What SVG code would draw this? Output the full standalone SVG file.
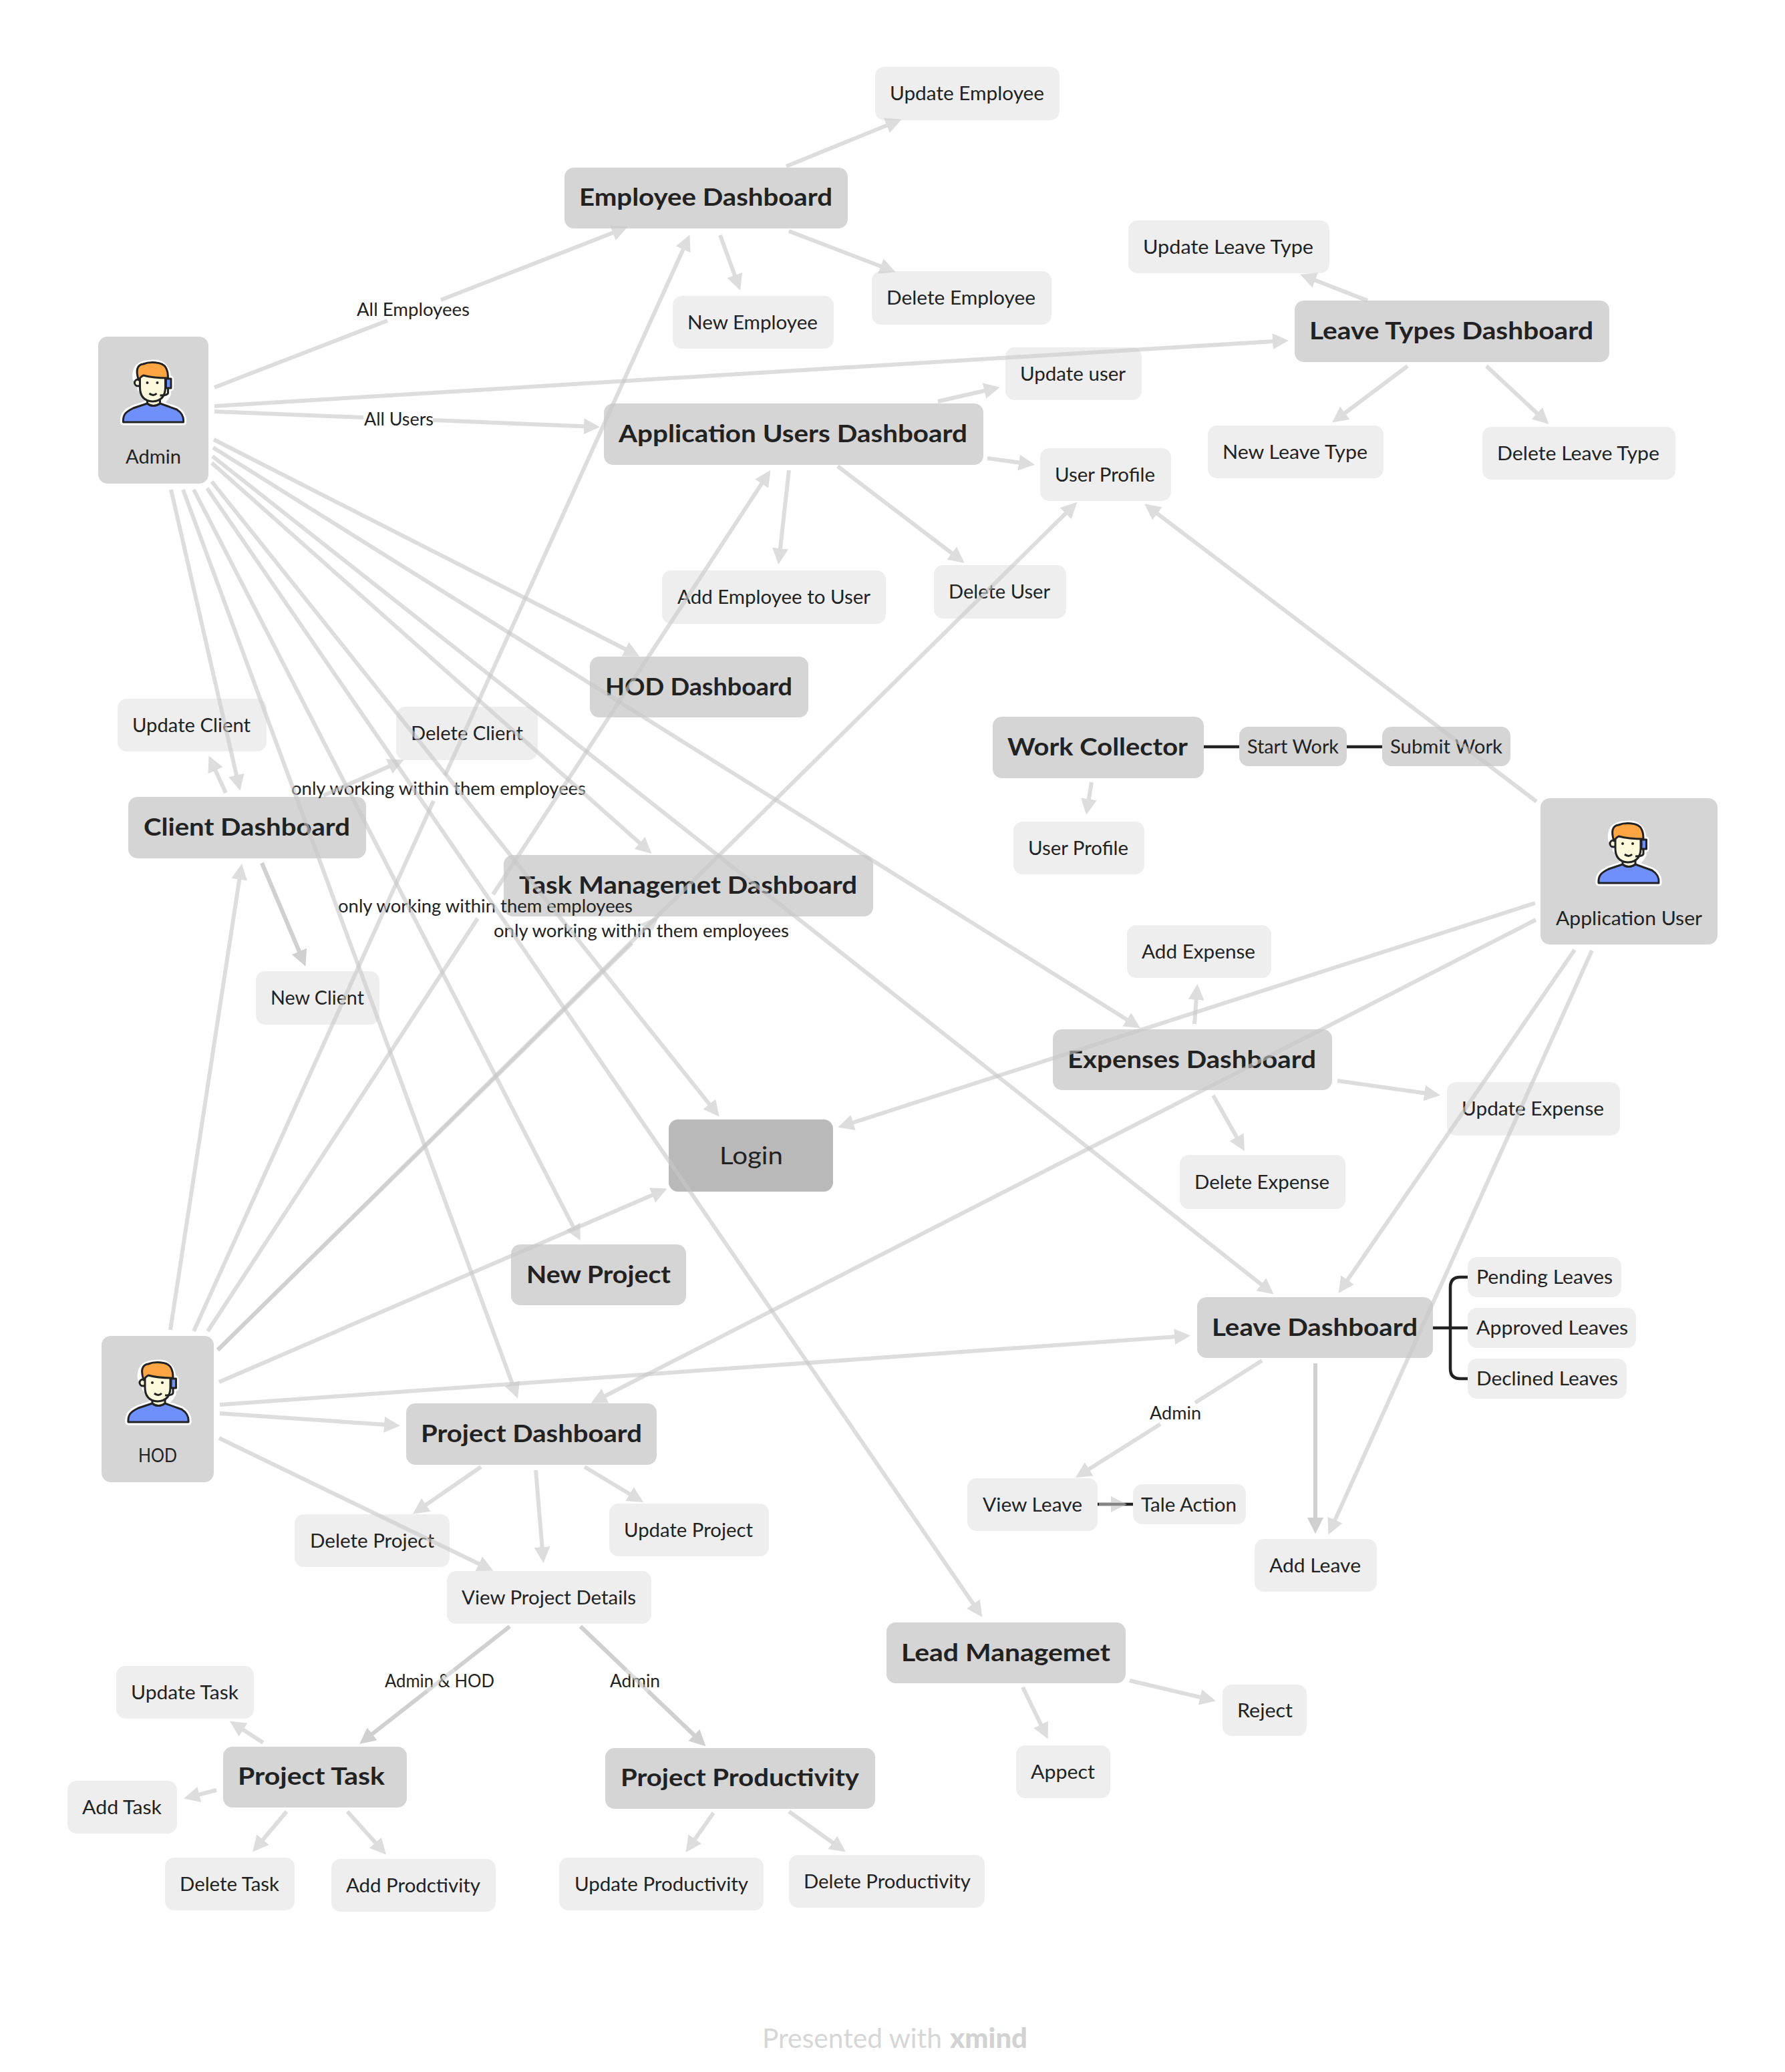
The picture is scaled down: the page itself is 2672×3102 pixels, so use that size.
<svg xmlns="http://www.w3.org/2000/svg" width="2672" height="3102" viewBox="0 0 2672 3102">
<style>
text{font-family:"Lato","Noto Sans",sans-serif;fill:#222}
.s{fill:#eee}.m{fill:#d5d5d5}.l{fill:#b9b9b9}
.r{font-size:29px}.b{font-size:37px;font-weight:700}.n{font-size:37px}.e{font-size:26px}
.c{fill:none;stroke:#c8c8c8;stroke-width:6;opacity:.6;marker-end:url(#a)}
.h{fill:#c8c8c8;opacity:.6}
.d{fill:none;stroke:#222;stroke-width:4.5}
.o{stroke:#222;stroke-width:3;stroke-linejoin:round}
.w{stroke:#fff;stroke-width:9;stroke-linejoin:round;fill:#fff}
</style>
<defs>
<marker id="a" markerUnits="userSpaceOnUse" markerWidth="26" markerHeight="26" refX="18" refY="12" orient="auto"><path d="M0 0L24 12L0 24Z" fill="#c8c8c8"/></marker>
<g id="p">
<path class="w" d="M-45 92C-46 80-40 76-30 71L-9 64V48L-20 42V33C-28 30-28 22-25 13C-22 6-12 3 2 3C14 3 22 12 22 27H26V41H22V50L18 56L10 64L35 73C41 77 46 82 45 92Z"/>
<path class="o" fill="#6f8ffb" d="M-45 92C-46 80-40 76-30 71L-9 64Q0 71 10 64L35 73C41 77 46 82 45 92Z"/>
<path class="o" fill="#fdf9dc" d="M-9 54V64Q0 71 10 64V54Z"/>
<circle class="o" cx="-23" cy="33" r="5" fill="#fdf9dc"/>
<path class="o" fill="#fdf9dc" d="M-20 20V40Q-20 60 -1 61Q18 60 18 40V20Z"/>
<path class="o" fill="#ffa544" d="M-22 29C-27 14-24 6-15 5C-8 2 14 0 19 11C22 16 22 20 22 26Q0 26-15 22Q-19 24-22 29Z"/>
<rect class="o" x="19" y="27" width="7.5" height="14" fill="#6f8ffb"/>
<path class="o" fill="none" d="M22 41V48Q22 52 10 52M-6 49Q0 54 5 49"/>
<circle cx="-9" cy="33" r="2" fill="#222"/><circle cx="6" cy="33" r="2" fill="#222"/>
</g>
</defs>
<rect width="2672" height="3102" fill="#fff"/>
<g id="nodes">
<g id="n1"><rect class="s" x="1310" y="100" width="276" height="80" rx="14"/><text class="r" x="1332" y="150" textLength="231" lengthAdjust="spacingAndGlyphs">Update Employee</text></g>
<g id="n2"><rect class="m" x="845" y="251" width="424" height="91" rx="14"/><text class="b" x="867" y="308" textLength="379" lengthAdjust="spacingAndGlyphs">Employee Dashboard</text></g>
<g id="n3"><rect class="s" x="1689" y="330" width="301" height="79" rx="14"/><text class="r" x="1711" y="380" textLength="255" lengthAdjust="spacingAndGlyphs">Update Leave Type</text></g>
<g id="n4"><rect class="s" x="1305" y="406" width="269" height="80" rx="14"/><text class="r" x="1327" y="456" textLength="223" lengthAdjust="spacingAndGlyphs">Delete Employee</text></g>
<g id="n5"><rect class="s" x="1007" y="443" width="241" height="79" rx="14"/><text class="r" x="1029" y="493" textLength="195" lengthAdjust="spacingAndGlyphs">New Employee</text></g>
<g id="n6"><rect class="m" x="1938" y="450" width="471" height="92" rx="14"/><text class="b" x="1960" y="508" textLength="425" lengthAdjust="spacingAndGlyphs">Leave Types Dashboard</text></g>
<g id="n7"><rect class="m" x="147" y="504" width="165" height="220" rx="14"/><use href="#p" x="229.5" y="540"/><text class="r" x="188" y="694" textLength="83" lengthAdjust="spacingAndGlyphs">Admin</text></g>
<g id="n8"><rect class="s" x="1505" y="520" width="204" height="79" rx="14"/><text class="r" x="1527" y="570" textLength="158" lengthAdjust="spacingAndGlyphs">Update user</text></g>
<g id="n9"><rect class="m" x="904" y="604" width="568" height="92" rx="14"/><text class="b" x="926" y="662" textLength="522" lengthAdjust="spacingAndGlyphs">Application Users Dashboard</text></g>
<g id="n10"><rect class="s" x="1808" y="637" width="263" height="79" rx="14"/><text class="r" x="1830" y="687" textLength="217" lengthAdjust="spacingAndGlyphs">New Leave Type</text></g>
<g id="n11"><rect class="s" x="2219" y="639" width="289" height="79" rx="14"/><text class="r" x="2241" y="689" textLength="243" lengthAdjust="spacingAndGlyphs">Delete Leave Type</text></g>
<g id="n12"><rect class="s" x="1557" y="671" width="196" height="79" rx="14"/><text class="r" x="1579" y="721" textLength="150" lengthAdjust="spacingAndGlyphs">User Profile</text></g>
<g id="n13"><rect class="s" x="991" y="854" width="335" height="80" rx="14"/><text class="r" x="1014" y="904" textLength="289" lengthAdjust="spacingAndGlyphs">Add Employee to User</text></g>
<g id="n14"><rect class="s" x="1398" y="846" width="198" height="80" rx="14"/><text class="r" x="1420" y="896" textLength="152" lengthAdjust="spacingAndGlyphs">Delete User</text></g>
<g id="n15"><rect class="m" x="883" y="983" width="327" height="91" rx="14"/><text class="b" x="906" y="1041" textLength="280" lengthAdjust="spacingAndGlyphs">HOD Dashboard</text></g>
<g id="n16"><rect class="s" x="176" y="1046" width="223" height="79" rx="14"/><text class="r" x="198" y="1096" textLength="177" lengthAdjust="spacingAndGlyphs">Update Client</text></g>
<g id="n17"><rect class="s" x="593" y="1058" width="212" height="80" rx="14"/><text class="r" x="615" y="1108" textLength="168" lengthAdjust="spacingAndGlyphs">Delete Client</text></g>
<g id="n18"><rect class="m" x="1486" y="1073" width="316" height="92" rx="14"/><text class="b" x="1508" y="1131" textLength="270" lengthAdjust="spacingAndGlyphs">Work Collector</text></g>
<g id="n19"><rect class="m" x="1855" y="1088" width="161" height="59" rx="14"/><text class="r" x="1867" y="1128" textLength="137" lengthAdjust="spacingAndGlyphs">Start Work</text></g>
<g id="n20"><rect class="m" x="2069" y="1088" width="192" height="59" rx="14"/><text class="r" x="2081" y="1128" textLength="168" lengthAdjust="spacingAndGlyphs">Submit Work</text></g>
<g id="n21"><rect class="m" x="192" y="1193" width="356" height="92" rx="14"/><text class="b" x="215" y="1251" textLength="309" lengthAdjust="spacingAndGlyphs">Client Dashboard</text></g>
<g id="n22"><rect class="s" x="1517" y="1230" width="196" height="79" rx="14"/><text class="r" x="1539" y="1280" textLength="150" lengthAdjust="spacingAndGlyphs">User Profile</text></g>
<g id="n23"><rect class="m" x="2306" y="1195" width="265" height="219" rx="14"/><use href="#p" x="2438" y="1230"/><text class="r" x="2329" y="1385" textLength="219" lengthAdjust="spacingAndGlyphs">Application User</text></g>
<g id="n24"><rect class="m" x="754" y="1280" width="553" height="92" rx="14"/><text class="b" x="777" y="1338" textLength="506" lengthAdjust="spacingAndGlyphs">Task Managemet Dashboard</text></g>
<g id="n25"><rect class="s" x="1687" y="1385" width="216" height="79" rx="14"/><text class="r" x="1709" y="1435" textLength="170" lengthAdjust="spacingAndGlyphs">Add Expense</text></g>
<g id="n26"><rect class="s" x="383" y="1454" width="185" height="80" rx="14"/><text class="r" x="405" y="1504" textLength="140" lengthAdjust="spacingAndGlyphs">New Client</text></g>
<g id="n27"><rect class="m" x="1576" y="1541" width="418" height="91" rx="14"/><text class="b" x="1598" y="1599" textLength="372" lengthAdjust="spacingAndGlyphs">Expenses Dashboard</text></g>
<g id="n28"><rect class="s" x="2166" y="1620" width="259" height="80" rx="14"/><text class="r" x="2188" y="1670" textLength="213" lengthAdjust="spacingAndGlyphs">Update Expense</text></g>
<g id="n29"><rect class="l" x="1001" y="1676" width="246" height="108" rx="14"/><text class="n" x="1077" y="1743" textLength="95" lengthAdjust="spacingAndGlyphs">Login</text></g>
<g id="n30"><rect class="s" x="1766" y="1729" width="248" height="81" rx="14"/><text class="r" x="1788" y="1780" textLength="202" lengthAdjust="spacingAndGlyphs">Delete Expense</text></g>
<g id="n31"><rect class="m" x="765" y="1863" width="262" height="91" rx="14"/><text class="b" x="788" y="1921" textLength="216" lengthAdjust="spacingAndGlyphs">New Project</text></g>
<g id="n32"><rect class="m" x="1792" y="1942" width="353" height="91" rx="14"/><text class="b" x="1814" y="2000" textLength="308" lengthAdjust="spacingAndGlyphs">Leave Dashboard</text></g>
<g id="n33"><rect class="s" x="2197" y="1882" width="230" height="60" rx="14"/><text class="r" x="2210" y="1922" textLength="204" lengthAdjust="spacingAndGlyphs">Pending Leaves</text></g>
<g id="n34"><rect class="s" x="2197" y="1958" width="252" height="60" rx="14"/><text class="r" x="2210" y="1998" textLength="227" lengthAdjust="spacingAndGlyphs">Approved Leaves</text></g>
<g id="n35"><rect class="s" x="2197" y="2034" width="238" height="60" rx="14"/><text class="r" x="2210" y="2074" textLength="212" lengthAdjust="spacingAndGlyphs">Declined Leaves</text></g>
<g id="n36"><rect class="m" x="152" y="2000" width="168" height="219" rx="14"/><use href="#p" x="237" y="2037"/><text class="r" x="207" y="2189" textLength="58" lengthAdjust="spacingAndGlyphs">HOD</text></g>
<g id="n37"><rect class="m" x="608" y="2101" width="375" height="92" rx="14"/><text class="b" x="630" y="2159" textLength="331" lengthAdjust="spacingAndGlyphs">Project Dashboard</text></g>
<g id="n38"><rect class="s" x="1448" y="2213" width="195" height="79" rx="14"/><text class="r" x="1471" y="2263" textLength="149" lengthAdjust="spacingAndGlyphs">View Leave</text></g>
<g id="n39"><rect class="s" x="1696" y="2222" width="169" height="60" rx="14"/><text class="r" x="1708" y="2263" textLength="143" lengthAdjust="spacingAndGlyphs">Tale Action</text></g>
<g id="n40"><rect class="s" x="441" y="2267" width="232" height="79" rx="14"/><text class="r" x="464" y="2317" textLength="186" lengthAdjust="spacingAndGlyphs">Delete Project</text></g>
<g id="n41"><rect class="s" x="912" y="2251" width="239" height="79" rx="14"/><text class="r" x="934" y="2301" textLength="193" lengthAdjust="spacingAndGlyphs">Update Project</text></g>
<g id="n42"><rect class="s" x="669" y="2352" width="306" height="79" rx="14"/><text class="r" x="691" y="2402" textLength="261" lengthAdjust="spacingAndGlyphs">View Project Details</text></g>
<g id="n43"><rect class="s" x="1878" y="2304" width="183" height="79" rx="14"/><text class="r" x="1900" y="2354" textLength="137" lengthAdjust="spacingAndGlyphs">Add Leave</text></g>
<g id="n44"><rect class="m" x="1327" y="2429" width="358" height="91" rx="14"/><text class="b" x="1349" y="2487" textLength="313" lengthAdjust="spacingAndGlyphs">Lead Managemet</text></g>
<g id="n45"><rect class="s" x="1830" y="2522" width="126" height="77" rx="14"/><text class="r" x="1852" y="2571" textLength="83" lengthAdjust="spacingAndGlyphs">Reject</text></g>
<g id="n46"><rect class="s" x="174" y="2494" width="206" height="79" rx="14"/><text class="r" x="196" y="2544" textLength="161" lengthAdjust="spacingAndGlyphs">Update Task</text></g>
<g id="n47"><rect class="m" x="334" y="2615" width="275" height="91" rx="14"/><text class="b" x="356" y="2672" textLength="220" lengthAdjust="spacingAndGlyphs">Project Task</text></g>
<g id="n48"><rect class="m" x="906" y="2617" width="404" height="91" rx="14"/><text class="b" x="929" y="2674" textLength="357" lengthAdjust="spacingAndGlyphs">Project Productivity</text></g>
<g id="n49"><rect class="s" x="1521" y="2613" width="141" height="79" rx="14"/><text class="r" x="1543" y="2663" textLength="96" lengthAdjust="spacingAndGlyphs">Appect</text></g>
<g id="n50"><rect class="s" x="101" y="2666" width="164" height="79" rx="14"/><text class="r" x="123" y="2716" textLength="119" lengthAdjust="spacingAndGlyphs">Add Task</text></g>
<g id="n51"><rect class="s" x="247" y="2781" width="194" height="79" rx="14"/><text class="r" x="269" y="2831" textLength="149" lengthAdjust="spacingAndGlyphs">Delete Task</text></g>
<g id="n52"><rect class="s" x="496" y="2783" width="246" height="79" rx="14"/><text class="r" x="518" y="2833" textLength="201" lengthAdjust="spacingAndGlyphs">Add Prodctivity</text></g>
<g id="n53"><rect class="s" x="837" y="2781" width="306" height="79" rx="14"/><text class="r" x="860" y="2831" textLength="260" lengthAdjust="spacingAndGlyphs">Update Productivity</text></g>
<g id="n54"><rect class="s" x="1181" y="2777" width="293" height="79" rx="14"/><text class="r" x="1203" y="2827" textLength="250" lengthAdjust="spacingAndGlyphs">Delete Productivity</text></g>
</g>
<g id="labels">
<text class="e" x="534" y="473" textLength="169" lengthAdjust="spacingAndGlyphs">All Employees</text>
<text class="e" x="545" y="637" textLength="104" lengthAdjust="spacingAndGlyphs">All Users</text>
<text class="e" x="436" y="1190" textLength="441" lengthAdjust="spacingAndGlyphs">only working within them employees</text>
<text class="e" x="506" y="1366" textLength="441" lengthAdjust="spacingAndGlyphs">only working within them employees</text>
<text class="e" x="739" y="1403" textLength="442" lengthAdjust="spacingAndGlyphs">only working within them employees</text>
<text class="e" x="1721" y="2125" textLength="77" lengthAdjust="spacingAndGlyphs">Admin</text>
<text class="e" x="576" y="2526" textLength="164" lengthAdjust="spacingAndGlyphs">Admin &amp; HOD</text>
<text class="e" x="913" y="2526" textLength="75" lengthAdjust="spacingAndGlyphs">Admin</text>
</g>
<g id="connectors">
<path class="d" d="M1802 1118H1855M2016 1118H2069M1643 2252H1696M2145 1988H2197M2197 1912H2186Q2171 1912 2171 1927V2049Q2171 2064 2186 2064H2197"/>
<path class="c" d="M1177 249L1344 181"/>
<path class="c" d="M1181 346L1335 405"/>
<path class="c" d="M1078 352L1106 429"/>
<path class="c" d="M321 580L580 480M660 449L934 342"/>
<path class="c" d="M321 608L1923 510"/>
<path class="c" d="M321 616L544 625M648 629L892 639"/>
<path class="c" d="M2047 450L1952 413"/>
<path class="c" d="M2107 548L1999 629"/>
<path class="c" d="M2225 548L2314 631"/>
<path class="c" d="M1404 601L1491 581"/>
<path class="c" d="M1478 686L1543 695"/>
<path class="c" d="M1181 704L1166 839"/>
<path class="c" d="M1254 698L1439 839"/>
<path class="c" d="M320 658L952 980"/>
<path class="c" d="M319 670L1702 1536"/>
<path class="c" d="M318 683L1902 1934"/>
<path class="c" d="M317 693L971 1274"/>
<path class="c" d="M317 721L1073 1667"/>
<path class="c" d="M310 731L1467 2416"/>
<path class="c" d="M290 733L866 1852"/>
<path class="c" d="M274 733L773 2088"/>
<path class="c" d="M256 733L358 1178"/>
<path class="c" d="M255 1991L361 1299"/>
<path class="c" d="M290 1993L649 1199M666 1161L1030 357"/>
<path class="c" d="M311 1993L715 1375M738 1339L1150 709"/>
<path class="c" d="M326 2021L1608 756"/>
<path class="c" style="marker-end:none" d="M326 2021L946 1412"/>
<polygon class="h" points="957,1384 987,1371 977,1393"/>
<path class="c" d="M328 2069L993 1782"/>
<path class="c" d="M329 2103L1776 2000"/>
<path class="c" d="M329 2116L593 2134"/>
<path class="c" d="M328 2153L733 2349"/>
<path class="c" d="M2300 1200L1718 758"/>
<path class="c" d="M2298 1352L1260 1686"/>
<path class="c" d="M2299 1377L890 2098"/>
<path class="c" d="M2357 1422L2007 1931"/>
<path class="c" d="M2383 1423L1991 2292"/>
<path class="c" d="M338 1187L315 1137"/>
<path class="c" d="M484 1191L599 1140"/>
<path class="c" d="M392 1292L455 1441"/>
<path class="c" d="M392 1292L455 1441"/>
<path class="c" d="M1788 1533L1792 1479"/>
<path class="c" d="M2002 1618L2150 1639"/>
<path class="c" d="M1816 1640L1860 1718"/>
<path class="c" d="M1634 1171L1627 1214"/>
<path class="c" d="M1889 2037L1789 2100M1737 2132L1615 2209"/>
<path class="c" d="M1969 2041V2290"/>
<path class="c" d="M1969 2041V2290"/>
<path class="c" d="M1645 2252H1681"/>
<path class="c" d="M720 2196L623 2263"/>
<path class="c" d="M802 2201L813 2334"/>
<path class="c" d="M875 2196L958 2246"/>
<path class="c" d="M763 2435L543 2607"/>
<path class="c" d="M763 2435L680 2500M639 2532L543 2607"/>
<path class="c" d="M869 2435L1052 2610"/>
<path class="c" d="M869 2435L937 2500M970 2532L1052 2610"/>
<path class="c" d="M1691 2516L1814 2545"/>
<path class="c" d="M1531 2526L1566 2598"/>
<path class="c" d="M394 2609L349 2580"/>
<path class="c" d="M324 2680L281 2691"/>
<path class="c" d="M429 2712L382 2768"/>
<path class="c" d="M520 2712L574 2772"/>
<path class="c" d="M1068 2714L1030 2768"/>
<path class="c" d="M1181 2712L1261 2769"/>
</g>
<text x="1141" y="3066" font-size="40" textLength="269" lengthAdjust="spacingAndGlyphs" style="fill:#d6d6d6">Presented with</text>
<text x="1422" y="3066" font-size="42" font-weight="900" textLength="116" lengthAdjust="spacingAndGlyphs" style="fill:#d2d2d2">xmind</text>
</svg>
